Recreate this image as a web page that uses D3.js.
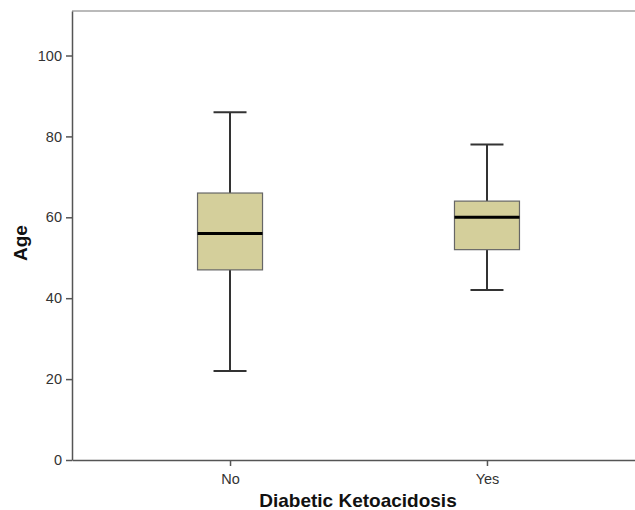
<!DOCTYPE html>
<html><head><meta charset="utf-8">
<script src="https://cdn.jsdelivr.net/npm/d3@7"></script>
<style>body{margin:0;background:#fff}svg{display:block}</style>
</head><body>
<svg id="c" width="635" height="510"></svg>
<script>
const categories = ["No", "Yes"];
const whiskerLow = [22, 42];
const q1 = [47, 52];
const median = [56, 60];
const q3 = [66, 64];
const whiskerHigh = [86, 78];
const yTicks = [0, 20, 40, 60, 80, 100];

const svg = d3.select("#c");
const mLeft = 72, mTop = 11, mBottom = 460, mRight = 645;
const y = d3.scaleLinear().domain([0, 111]).range([mBottom, mTop]);
const x = d3.scalePoint().domain(categories).range([mLeft, mRight]).padding(0.615);

const font = "'Liberation Sans', Arial, sans-serif";

// frame top
svg.append("line").attr("x1", mLeft).attr("x2", 635).attr("y1", mTop).attr("y2", mTop)
  .attr("stroke", "#777").attr("stroke-width", 1.2);

const ya = svg.append("g").attr("transform", `translate(${mLeft},0)`)
  .call(d3.axisLeft(y).tickValues(yTicks).tickSize(6).tickSizeOuter(0).tickPadding(4));
ya.select(".domain").attr("stroke", "#555").attr("stroke-width", 1.5);
ya.selectAll(".tick line").attr("stroke", "#555").attr("stroke-width", 1.5);
ya.selectAll("text").attr("font-family", font).attr("font-size", 14.5).attr("fill", "#333");

const xa = svg.append("g").attr("transform", `translate(0,${mBottom})`)
  .call(d3.axisBottom(x).tickSize(6).tickSizeOuter(0).tickPadding(8));
xa.select(".domain").attr("stroke", "#555").attr("stroke-width", 1.5);
xa.selectAll(".tick line").attr("stroke", "#555").attr("stroke-width", 1.5);
xa.selectAll("text").attr("font-family", font).attr("font-size", 14.5).attr("fill", "#333");

const boxW = 65, capW = 33;
categories.forEach((c, i) => {
  const cx = x(c);
  const g = svg.append("g");
  g.append("line").attr("x1", cx).attr("x2", cx).attr("y1", y(whiskerHigh[i])).attr("y2", y(q3[i]))
    .attr("stroke", "#333").attr("stroke-width", 2);
  g.append("line").attr("x1", cx).attr("x2", cx).attr("y1", y(q1[i])).attr("y2", y(whiskerLow[i]))
    .attr("stroke", "#333").attr("stroke-width", 2);
  [whiskerHigh[i], whiskerLow[i]].forEach(v => {
    g.append("line").attr("x1", cx - capW / 2).attr("x2", cx + capW / 2).attr("y1", y(v)).attr("y2", y(v))
      .attr("stroke", "#333").attr("stroke-width", 2);
  });
  g.append("rect").attr("x", cx - boxW / 2).attr("width", boxW)
    .attr("y", y(q3[i])).attr("height", y(q1[i]) - y(q3[i]))
    .attr("fill", "#d4cf9b").attr("stroke", "#666").attr("stroke-width", 1.2);
  g.append("line").attr("x1", cx - boxW / 2).attr("x2", cx + boxW / 2).attr("y1", y(median[i])).attr("y2", y(median[i]))
    .attr("stroke", "#000").attr("stroke-width", 3);
});

svg.append("text").attr("x", 358).attr("y", 507).attr("text-anchor", "middle")
  .attr("font-family", font).attr("font-weight", "bold").attr("font-size", 19).attr("fill", "#111")
  .text("Diabetic Ketoacidosis");
svg.append("text").attr("transform", "translate(27,243) rotate(-90)").attr("text-anchor", "middle")
  .attr("font-family", font).attr("font-weight", "bold").attr("font-size", 19).attr("fill", "#111")
  .text("Age");
</script>
</body></html>
